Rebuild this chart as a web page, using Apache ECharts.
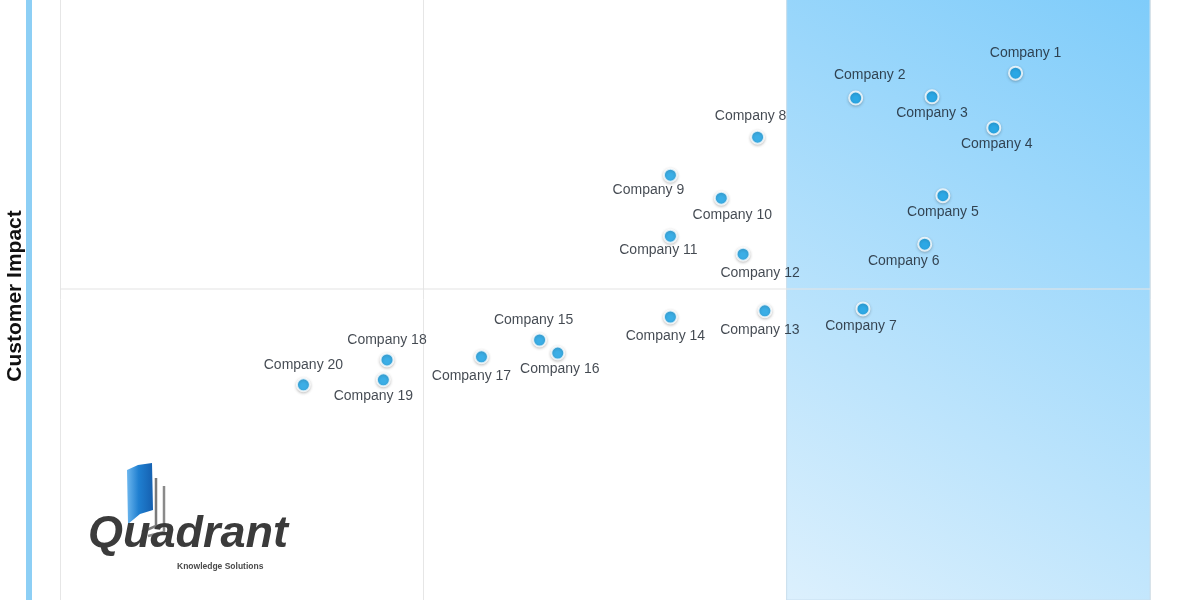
<!DOCTYPE html>
<html>
<head>
<meta charset="utf-8">
<script src="https://cdn.jsdelivr.net/npm/echarts@6/dist/echarts.min.js"></script>
<style>
html,body{margin:0;padding:0;background:#fff;}
#chart{width:1200px;height:600px;}
</style>
</head>
<body>
<div id="chart"></div>
<script>
// ---- data ----
const companies = ['Company 1','Company 2','Company 3','Company 4','Company 5','Company 6','Company 7','Company 8','Company 9','Company 10',
  'Company 11','Company 12','Company 13','Company 14','Company 15','Company 16','Company 17','Company 18','Company 19','Company 20'];
const xValues = [2.63, 2.19, 2.40, 2.57, 2.43, 2.38, 2.21, 1.92, 1.68, 1.82,
  1.68, 1.88, 1.94, 1.68, 1.32, 1.37, 1.16, 0.90, 0.89, 0.67];
const yValues = [8.47, 8.07, 8.09, 7.59, 6.50, 5.72, 4.68, 7.44, 6.83, 6.46,
  5.85, 5.56, 4.65, 4.55, 4.18, 3.97, 3.91, 3.86, 3.54, 3.46];
const yAxisTitle = 'Customer Impact';

// label placement (presentation only)
const labelPos = ['top','top','bottom','bottom','bottom','bottom','bottom','top','bottom','bottom',
  'bottom','bottom','bottom','bottom','top','bottom','bottom','top','bottom','top'];
const labelOffset = [[10,-2],[14,-4],[0,0],[3,0],[0,0],[-21,0],[-2,1],[-7,-3],[-22,-2],[11,0],
  [-12,-2],[17,2],[-5,3],[-5,3],[-6,-1],[2,0],[-10,3],[0,-1],[-10,0],[0,-1]];

const chart = echarts.init(document.getElementById('chart'), null, {renderer:'canvas'});

const seriesData = companies.map((name, i) => ({
  name: name,
  value: [xValues[i], yValues[i]],
  label: {
    position: labelPos[i],
    distance: labelPos[i] === 'top' ? 4 : 2,
    offset: labelOffset[i]
  }
}));

const option = {
  animation: false,
  backgroundColor: '#ffffff',
  grid: { left: 60, right: 50, top: -22, bottom: 0, containLabel: false, outerBoundsMode: 'none' },
  xAxis: {
    type: 'value', min: 0, max: 3, interval: 1,
    axisLine: { show: false }, axisTick: { show: false }, axisLabel: { show: false },
    splitLine: { show: true, lineStyle: { color: '#e6e6e6', width: 1 } }
  },
  yAxis: {
    type: 'value', min: 0, max: 10, interval: 5,
    name: yAxisTitle,
    nameLocation: 'middle',
    nameRotate: 90,
    nameGap: 34,
    nameTextStyle: { fontFamily: 'Liberation Sans, Arial', fontWeight: 'bold', fontSize: 21, color: '#111', padding: [0, 14, 0, 0] },
    axisLine: { show: false }, axisTick: { show: false }, axisLabel: { show: false },
    splitLine: { show: false }
  },
  graphic: [
    { type: 'rect', left: 26, top: 0, shape: { width: 6, height: 600 }, style: { fill: '#8dcff5' }, z: 10 },
    // logo: book pages
    { type: 'polyline', shape: { points: [[156,478],[156,526],[142,532]] }, style: { stroke: '#7a7a7a', lineWidth: 2.5, fill: null }, z: 10 },
    { type: 'polyline', shape: { points: [[164,486],[164,532],[148,536]] }, style: { stroke: '#8a8a8a', lineWidth: 2.5, fill: null }, z: 10 },
    { type: 'polygon', shape: { points: [[127,470],[138,465],[152,463],[153,510],[140,514],[128,524]] },
      style: { fill: new echarts.graphic.LinearGradient(0,0,1,0,[{offset:0,color:'#6cb6ee'},{offset:0.45,color:'#1f7fd0'},{offset:1,color:'#1560b0'}]) }, z: 11 },
    { type: 'text', left: 88, top: 512, style: { text: 'Quadrant', font: 'italic bold 45px "Liberation Sans", Arial', fill: '#3b3b3b' }, z: 12 },
    { type: 'text', left: 177, top: 562, style: { text: 'Knowledge Solutions', font: 'bold 8.5px "Liberation Sans", Arial', fill: '#4a4a4a' }, z: 12 }
  ],
  series: [{
    type: 'scatter',
    symbol: 'circle',
    symbolSize: 13,
    data: seriesData,
    itemStyle: {
      color: '#16a6ec', borderColor: '#ffffff', borderWidth: 2,
      shadowBlur: 3, shadowColor: 'rgba(0,0,0,0.25)', shadowOffsetY: 1
    },
    label: {
      show: true,
      formatter: '{b}',
      fontFamily: 'Liberation Sans, Arial',
      fontSize: 14,
      color: '#141c25'
    },
    markArea: {
      silent: true,
      itemStyle: {
        color: new echarts.graphic.LinearGradient(0,1,1,0,[{offset:0,color:'#dcf0fd'},{offset:1,color:'#7ccbfa'}]),
        borderColor: '#c9dfee', borderWidth: 1
      },
      data: [[{ xAxis: 2, yAxis: 0 }, { xAxis: 3, yAxis: 10 }]]
    },
    markLine: {
      silent: true,
      symbol: 'none',
      label: { show: false },
      lineStyle: { color: 'rgba(228,228,228,0.7)', type: 'solid', width: 1.5 },
      data: [{ yAxis: 5 }]
    }
  }]
};
chart.setOption(option);
</script>
</body>
</html>
